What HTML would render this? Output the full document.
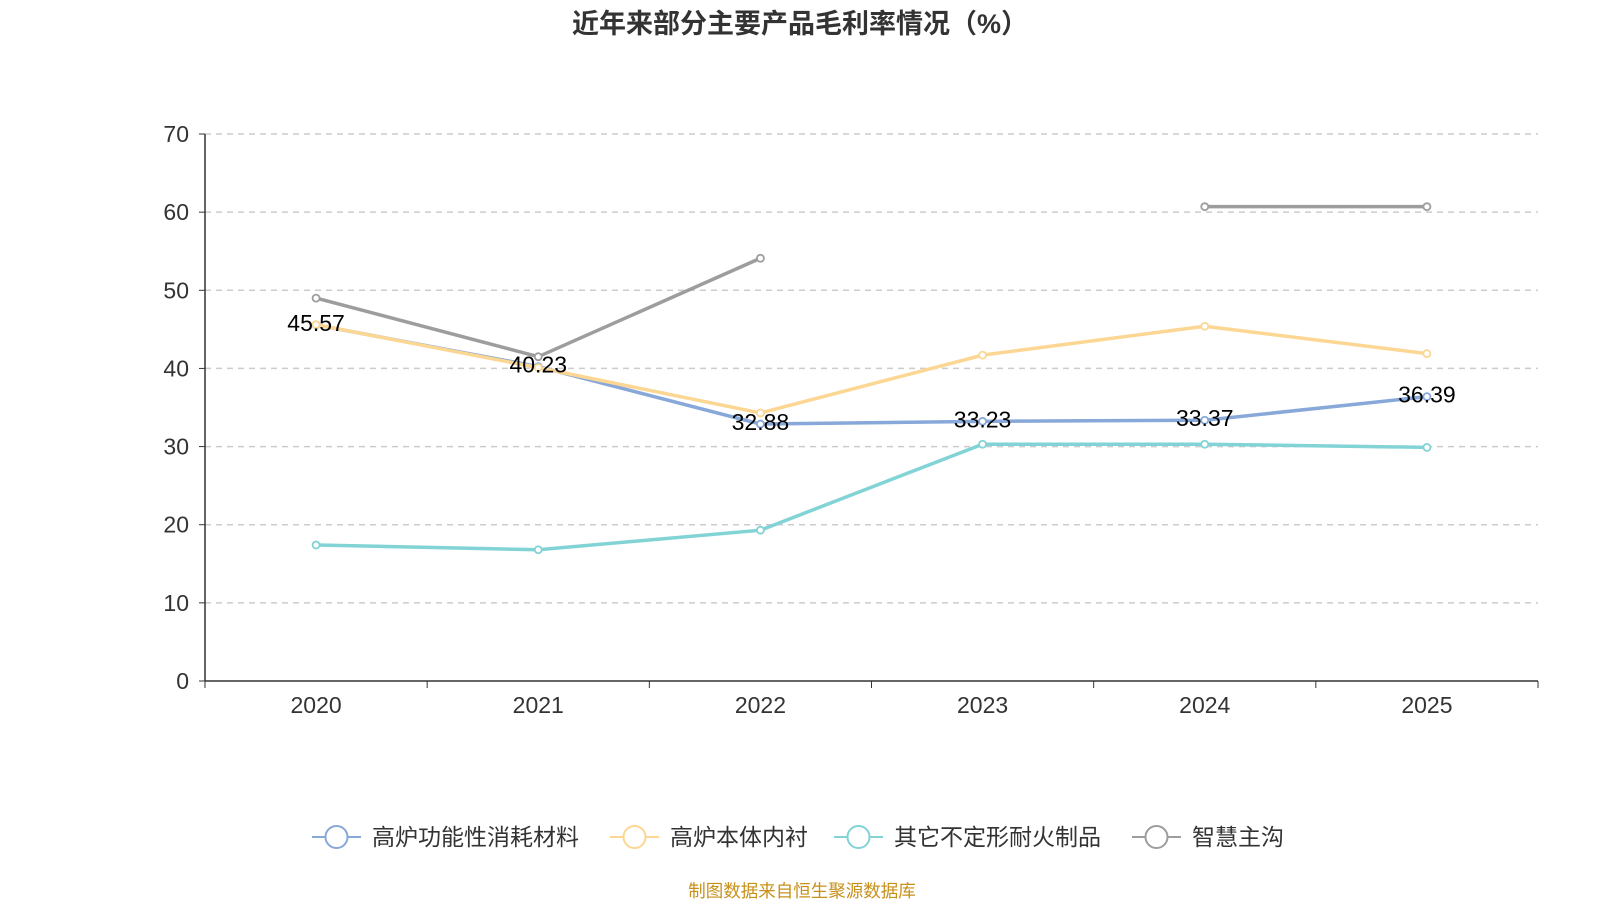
<!DOCTYPE html>
<html><head><meta charset="utf-8"><style>
body{margin:0;background:#fff;width:1600px;height:900px;overflow:hidden;font-family:"Liberation Sans","Noto Sans CJK SC",sans-serif}
</style></head><body>
<svg id="c" width="1600" height="900" xmlns="http://www.w3.org/2000/svg"></svg>
<script>
const categories=["2020","2021","2022","2023","2024","2025"];
const yTicks=[0,10,20,30,40,50,60,70];
const seriesNames=["高炉功能性消耗材料","高炉本体内衬","其它不定形耐火制品","智慧主沟"];
const s1=[45.57,40.23,32.88,33.23,33.37,36.39];
const s2=[45.6,40.1,34.3,41.7,45.4,41.9];
const s3=[17.4,16.8,19.3,30.3,30.3,29.9];
const s4=[49.0,41.5,54.1,null,60.7,60.7];
const labels1=["45.57","40.23","32.88","33.23","33.37","36.39"];
const colors=["#87a8d8","#fcd693","#82d3d5","#9d9d9d"];
const NS="http://www.w3.org/2000/svg";
const svg=document.getElementById('c');
const x0=205,x1=1538,yb=681,yt=134;
const step=(x1-x0)/categories.length;
const xs=i=>x0+step*(i+0.5);
const ys=v=>yb-(v/70)*(yb-yt);
function el(t,a,p){const e=document.createElementNS(NS,t);for(const k in a)e.setAttribute(k,a[k]);(p||svg).appendChild(e);return e;}
const title=el('text',{x:800,y:33,'text-anchor':'middle','font-size':27,'font-weight':'bold',fill:'#333'});
title.textContent="近年来部分主要产品毛利率情况（%）";


yTicks.forEach(v=>{
  if(v>0){const g=el('line',{x1:x0,x2:x1,y1:ys(v),y2:ys(v),stroke:'#ccc','stroke-dasharray':'6,5','stroke-width':1.5});
  
  }
  const tk=el('line',{x1:x0-6,x2:x0,y1:ys(v),y2:ys(v),stroke:'#333'});
  
  
  const t=el('text',{x:189,y:ys(v)+8,'text-anchor':'end','font-size':23,fill:'#333'});
  t.textContent=v;
  
  
});
const ya=el('line',{x1:x0,x2:x0,y1:yt,y2:yb,stroke:'#333','stroke-width':1.5});


const xa=el('line',{x1:x0,x2:x1,y1:yb,y2:yb,stroke:'#333','stroke-width':1.5});


for(let i=0;i<=categories.length;i++){
  const t=el('line',{x1:x0+step*i,x2:x0+step*i,y1:yb,y2:yb+7,stroke:'#333'});
  
  
}
categories.forEach((c,i)=>{
  const t=el('text',{x:xs(i),y:713,'text-anchor':'middle','font-size':23,fill:'#333'});
  t.textContent=c;
  
  
});
const all=[s1,s2,s3,s4];
all.forEach((s,k)=>{
  let segs=[],cur=[];
  s.forEach((v,i)=>{if(v==null){if(cur.length)segs.push(cur);cur=[];}else cur.push([xs(i),ys(v)]);});
  if(cur.length)segs.push(cur);
  segs.forEach(sg=>{
    const p=el('polyline',{points:sg.map(q=>q.join(',')).join(' '),fill:'none',stroke:colors[k],'stroke-width':3.5});
    
    
  });
  s.forEach((v,i)=>{if(v==null)return;
    const c=el('circle',{cx:xs(i),cy:ys(v),r:3.5,fill:'#fff',stroke:colors[k],'stroke-width':1.8});
    
    
  });
});
s1.forEach((v,i)=>{
  const t=el('text',{x:xs(i),y:ys(v)+6,'text-anchor':'middle','font-size':23,fill:'#000'});
  t.textContent=labels1[i];
  
  
});
const lx=[312,610,834,1132];
seriesNames.forEach((n,k)=>{
  const g=el('g',{});
  
  
  el('line',{x1:lx[k],x2:lx[k]+49,y1:837,y2:837,stroke:colors[k],'stroke-width':2},g);
  el('circle',{cx:lx[k]+24.5,cy:837,r:11,fill:'#fff',stroke:colors[k],'stroke-width':2},g);
  const t=el('text',{x:lx[k]+60,y:845,'font-size':23,fill:'#333'},g);
  t.textContent=n;
});
const src=el('text',{x:802,y:897,'text-anchor':'middle','font-size':17.5,fill:'#c8901a'});
src.textContent="制图数据来自恒生聚源数据库";


</script>
</body></html>
